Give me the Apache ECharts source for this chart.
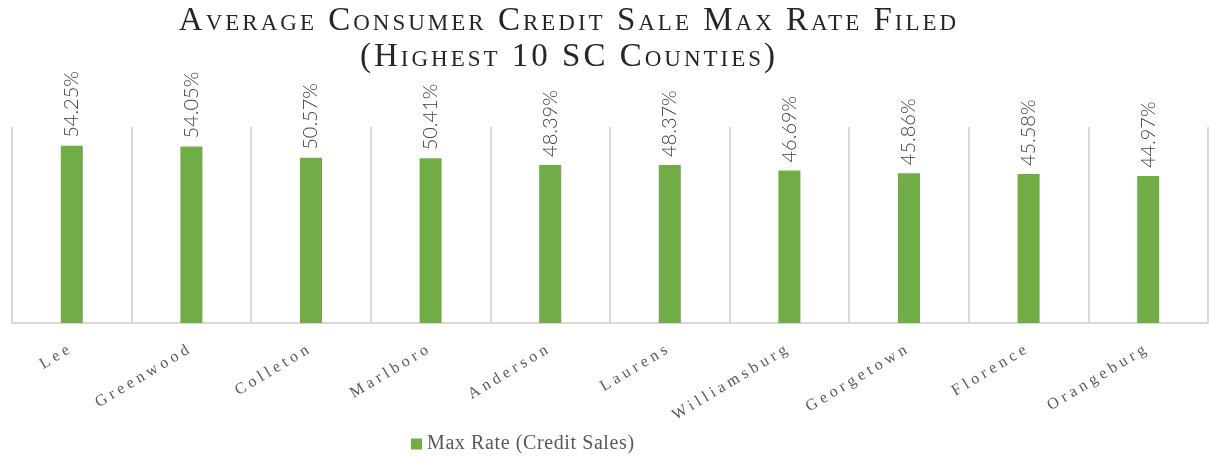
<!DOCTYPE html>
<html>
<head>
<meta charset="utf-8">
<script src="https://cdn.jsdelivr.net/npm/echarts@6/dist/echarts.min.js"></script>
<style>html,body{margin:0;padding:0;background:#fff}#c{width:1209px;height:457px}</style>
</head>
<body>
<div id="c"></div>
<script>
const counties = ['Lee','Greenwood','Colleton','Marlboro','Anderson','Laurens','Williamsburg','Georgetown','Florence','Orangeburg'];
const maxRate = [54.25, 54.05, 50.57, 50.41, 48.39, 48.37, 46.69, 45.86, 45.58, 44.97];
const seriesName = 'Max Rate (Credit Sales)';
const titleText = 'Average Consumer Credit Sale Max Rate Filed\n(Highest 10 SC Counties)';

// letter spacing for specific text styles (title, axis labels, legend)
(function () {
  const proto = CanvasRenderingContext2D.prototype;
  const orig = proto.fillText;
  proto.fillText = function (t, x, y, m) {
    const f = this.font || '';
    let ls = '0px';
    if (/small-caps/.test(f)) ls = '3px';
    else if (/Liberation Serif/.test(f) && /(^|\s)16px/.test(f)) ls = '4px';
    else if (/Liberation Serif/.test(f) && /(^|\s)20px/.test(f)) ls = '0.6px';
    if ('letterSpacing' in this) this.letterSpacing = ls;
    return m === undefined ? orig.call(this, t, x, y) : orig.call(this, t, x, y, m);
  };
})();

const chart = echarts.init(document.getElementById('c'), null, {renderer: 'canvas'});
chart.setOption({
  animation: false,
  backgroundColor: '#ffffff',
  title: {
    text: titleText,
    left: 569,
    textAlign: 'center',
    top: 3,
    padding: 0,
    textStyle: {
      fontFamily: 'Liberation Serif',
      fontStyle: 'small-caps',
      fontWeight: 'normal',
      fontSize: 33,
      lineHeight: 36,
      color: '#262626'
    }
  },
  legend: {
    left: 411,
    top: 434,
    padding: 0,
    icon: 'rect',
    itemWidth: 11,
    itemHeight: 11,
    textStyle: {fontFamily: 'Liberation Serif', fontSize: 20, color: '#595959'},
    data: [seriesName]
  },
  grid: {left: 12, right: 1, top: 127, bottom: 134, containLabel: false},
  xAxis: {
    type: 'category',
    data: counties,
    boundaryGap: true,
    axisLine: {show: true, lineStyle: {color: '#d9d9d9', width: 2}},
    axisTick: {show: false},
    splitLine: {show: true, lineStyle: {color: '#d9d9d9', width: 2}},
    axisLabel: {
      rotate: 31,
      margin: 24,
      interval: 0,
      fontFamily: 'Liberation Serif',
      fontSize: 16,
      color: '#595959'
    }
  },
  yAxis: {
    type: 'value',
    min: 0,
    max: 60,
    show: false,
    splitLine: {show: false}
  },
  series: [{
    name: seriesName,
    type: 'bar',
    data: maxRate,
    barWidth: 22,
    itemStyle: {color: '#70ad47'},
    label: {
      show: true,
      position: 'top',
      rotate: 90,
      align: 'left',
      verticalAlign: 'middle',
      distance: 8,
      formatter: p => p.value.toFixed(2) + '%',
      fontFamily: 'Lato',
      fontWeight: 300,
      fontSize: 20,
      color: '#404040'
    }
  }]
});
</script>
</body>
</html>
